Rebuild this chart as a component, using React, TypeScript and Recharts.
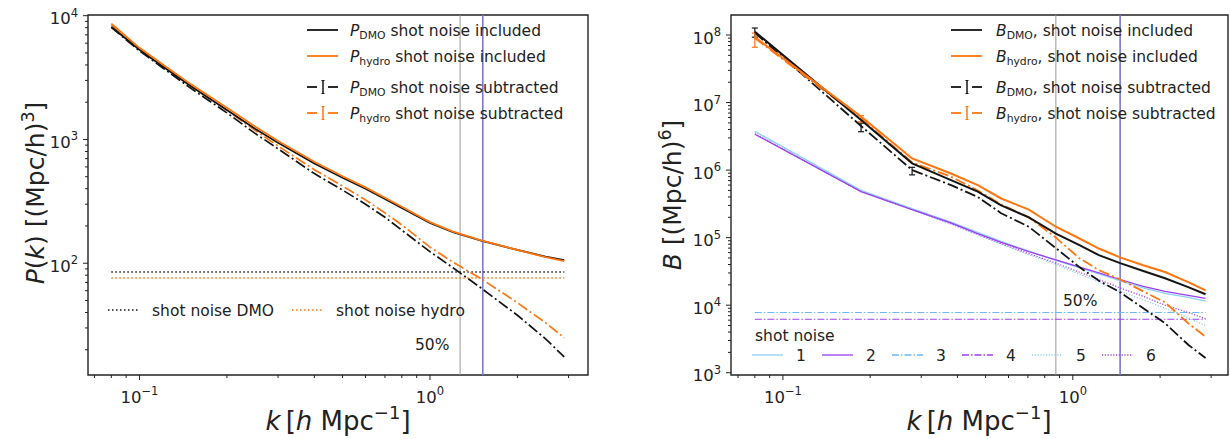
import React from "react";
import { LineChart, Line, XAxis, YAxis, ReferenceLine, ReferenceArea, ErrorBar } from "recharts";

// left panel: power spectrum
const kP = [0.08, 0.1, 0.12, 0.15, 0.2, 0.25, 0.3, 0.4, 0.5, 0.6, 0.7, 0.8, 1.0, 1.2, 1.5, 2.0, 2.5, 2.9];
const pDmoIncl = [8150, 5300, 3900, 2700, 1730, 1220, 940, 640, 490, 400, 330, 280, 212, 178, 152, 128, 113, 106];
const pHydroIncl = [8600, 5500, 4050, 2800, 1800, 1270, 970, 660, 505, 410, 338, 286, 215, 180, 153, 128, 112, 104];
const pDmoSub = [8050, 5200, 3800, 2600, 1640, 1120, 840, 530, 390, 300, 235, 185, 124, 92, 63, 38, 24.5, 17.5];
const pHydroSub = [8500, 5400, 3950, 2700, 1720, 1185, 885, 570, 420, 325, 255, 204, 135, 102, 75, 48, 33, 25];
const pNoiseDmo = 85;
const pNoiseHydro = 76;
const pCut50 = 1.27;
const pCutBlue = 1.52;

// right panel: bispectrum
const kB = [0.08, 0.186, 0.279, 0.38, 0.47, 0.566, 0.705, 0.874, 1.05, 1.23, 1.456, 1.75, 2.08, 2.5, 2.87];
const bDmoIncl = [1.12e8, 5.5e6, 1.26e6, 7.1e5, 4.8e5, 3.0e5, 2.0e5, 1.15e5, 7.8e4, 5.5e4, 4.2e4, 3.2e4, 2.5e4, 1.85e4, 1.45e4];
const bHydroIncl = [9.3e7, 6.2e6, 1.49e6, 8.9e5, 6.0e5, 3.8e5, 2.6e5, 1.45e5, 9.8e4, 6.9e4, 5.1e4, 3.9e4, 3.1e4, 2.2e4, 1.66e4];
const bDmoSub = [1.08e8, 4.5e6, 1.0e6, 6.0e5, 4.0e5, 2.3e5, 1.45e5, 7.0e4, 3.7e4, 2.3e4, 1.55e4, 9.0e3, 5.4e3, 2.6e3, 1.65e3];
const bHydroSub = [9.0e7, 5.8e6, 1.3e6, 8.0e5, 5.0e5, 3.1e5, 2.0e5, 1.0e5, 5.0e4, 3.3e4, 2.4e4, 1.6e4, 1.1e4, 5.4e3, 3.4e3];
const bDmoSubErr = [[1.5e7, 1.9e7], [8e5, 4.6e5], [1.5e5, 1.0e5], null, null, null, null, null, null, null, null, null, null, null, null];
const bHydroSubErr = [[2.4e7, 1.7e7], [6e5, 6e5], null, null, null, null, null, null, null, null, null, null, null, null, null];
const sn1 = [3.75e6, 5.0e5, 2.7e5, 1.7e5, 1.2e5, 8.8e4, 6.3e4, 4.6e4, 3.6e4, 2.9e4, 2.3e4, 1.8e4, 1.5e4, 1.3e4, 1.15e4];
const sn2 = [3.4e6, 4.8e5, 2.6e5, 1.65e5, 1.15e5, 8.5e4, 6.2e4, 4.7e4, 3.7e4, 3.0e4, 2.4e4, 1.9e4, 1.6e4, 1.4e4, 1.26e4];
const sn3 = 7.8e3;
const sn4 = 6.2e3;
const sn5 = [3.7e6, 4.9e5, 2.6e5, 1.6e5, 1.1e5, 8.0e4, 5.6e4, 4.0e4, 2.9e4, 2.2e4, 1.6e4, 1.2e4, 9.0e3, 6.5e3, 5.0e3];
const sn6 = [3.45e6, 4.8e5, 2.6e5, 1.6e5, 1.12e5, 8.2e4, 5.8e4, 4.2e4, 3.1e4, 2.4e4, 1.8e4, 1.35e4, 1.0e4, 7.8e3, 6.3e3];
const bCut50 = 0.874;
const bCutBlue = 1.456;

// axes
const xDomainP = [0.0665, 3.5];
const xDomainB = [0.0662, 3.43];
const yDomainP = [12.5, 10130];
const yDomainB = [925, 1.98e8];
const xTicks = [0.07, 0.08, 0.09, 0.1, 0.2, 0.3, 0.4, 0.5, 0.6, 0.7, 0.8, 0.9, 1, 2, 3];
const pTicks = [20, 30, 40, 50, 60, 70, 80, 90, 100, 200, 300, 400, 500, 600, 700, 800, 900, 1000, 2000, 3000, 4000, 5000, 6000, 7000, 8000, 9000, 10000];
const bTicks = [
  1e3, 2e3, 3e3, 4e3, 5e3, 6e3, 7e3, 8e3, 9e3,
  1e4, 2e4, 3e4, 4e4, 5e4, 6e4, 7e4, 8e4, 9e4,
  1e5, 2e5, 3e5, 4e5, 5e5, 6e5, 7e5, 8e5, 9e5,
  1e6, 2e6, 3e6, 4e6, 5e6, 6e6, 7e6, 8e6, 9e6,
  1e7, 2e7, 3e7, 4e7, 5e7, 6e7, 7e7, 8e7, 9e7, 1e8,
];

const BLACK = "#141414";
const ORANGE = "#ff7510";
const LBLUE = "#8fd0f5";
const MBLUE = "#6db8f2";
const PURPLE = "#9b40f0";
const GRAY = "#9a9a9a";
const VBLUE = "#7b79c9";
const FONT = "DejaVu Sans, sans-serif";
const DASHDOT = "11 3 2 3";

const pRows = kP.map((k, i) => ({
  k,
  dmoIncl: pDmoIncl[i],
  hydroIncl: pHydroIncl[i],
  dmoSub: pDmoSub[i],
  hydroSub: pHydroSub[i],
}));

const bRows = kB.map((k, i) => ({
  k,
  dmoIncl: bDmoIncl[i],
  hydroIncl: bHydroIncl[i],
  dmoSub: bDmoSub[i],
  hydroSub: bHydroSub[i],
  dmoErr: bDmoSubErr[i],
  hydroErr: bHydroSubErr[i],
  sn1: sn1[i],
  sn2: sn2[i],
  sn5: sn5[i],
  sn6: sn6[i],
}));

const isMajor = (v: number) => Math.abs(Math.log10(v) - Math.round(Math.log10(v))) < 1e-6;
const expOf = (v: number) => {
  const e = Math.round(Math.log10(v));
  return e < 0 ? "\u2212" + Math.abs(e) : String(e);
};

function XTick(props: any) {
  const { x, y, payload } = props;
  const v = payload.value;
  const major = isMajor(v);
  return (
    <g>
      <line x1={x} x2={x} y1={y} y2={y + (major ? 5 : 3)} stroke="#222" strokeWidth={1} />
      {major && (
        <text x={x} y={y + 27.5} textAnchor="middle" fontFamily={FONT} fontSize={16.5} fill="#222">
          10<tspan dy={-7.5} fontSize={11.5}>{expOf(v)}</tspan>
        </text>
      )}
    </g>
  );
}

function YTick(props: any) {
  const { x, y, payload } = props;
  const v = payload.value;
  const major = isMajor(v);
  return (
    <g>
      <line x1={x} x2={x - (major ? 5 : 3)} y1={y} y2={y} stroke="#222" strokeWidth={1} />
      {major && (
        <text x={x - 10} y={y + 8.5} textAnchor="end" fontFamily={FONT} fontSize={16.5} fill="#222">
          10<tspan dy={-7.5} fontSize={11.5}>{expOf(v)}</tspan>
        </text>
      )}
    </g>
  );
}

function LegendSample({ x, y, color, kind }: { x: number; y: number; color: string; kind: string }) {
  if (kind === "err") {
    return (
      <g stroke={color} strokeWidth={1.8}>
        <line x1={x} x2={x + 10} y1={y} y2={y} />
        <line x1={x + 16} x2={x + 16} y1={y - 6.5} y2={y + 6.5} strokeWidth={1.5} />
        <line x1={x + 14.5} x2={x + 17.5} y1={y - 6.5} y2={y - 6.5} strokeWidth={1} />
        <line x1={x + 14.5} x2={x + 17.5} y1={y + 6.5} y2={y + 6.5} strokeWidth={1} />
        <line x1={x + 21} x2={x + 31} y1={y} y2={y} />
      </g>
    );
  }
  return <line x1={x} x2={x + 31} y1={y} y2={y} stroke={color} strokeWidth={1.8} />;
}

const legendRows = [
  { y: 30, color: BLACK, sub: "DMO", kind: "solid", txt: "shot noise included" },
  { y: 56, color: ORANGE, sub: "hydro", kind: "solid", txt: "shot noise included" },
  { y: 87, color: BLACK, sub: "DMO", kind: "err", txt: "shot noise subtracted" },
  { y: 113, color: ORANGE, sub: "hydro", kind: "err", txt: "shot noise subtracted" },
];

const snLegend = [
  { label: "1", color: LBLUE, dash: undefined },
  { label: "2", color: PURPLE, dash: undefined },
  { label: "3", color: MBLUE, dash: "7 2 1.5 2" },
  { label: "4", color: PURPLE, dash: "7 2 1.5 2" },
  { label: "5", color: LBLUE, dash: "1.2 1.6" },
  { label: "6", color: PURPLE, dash: "1.2 1.6" },
];

function Overlay() {
  const t = { fontFamily: FONT, fill: "#222" } as const;
  return (
    <svg width={1230} height={439} style={{ position: "absolute", left: 0, top: 0, pointerEvents: "none" }}>
      {/* left legend */}
      {legendRows.map((r) => (
        <g key={"pl" + r.y + r.sub}>
          <LegendSample x={307} y={r.y} color={r.color} kind={r.kind} />
          <text x={350} y={r.y + 5.5} fontSize={15.5} {...t}>
            <tspan fontStyle="italic">P</tspan>
            <tspan fontSize={10.8} dy={3.5}>{r.sub}</tspan>
            <tspan dy={-3.5}> {r.txt}</tspan>
          </text>
        </g>
      ))}
      <line x1={108} x2={138} y1={310} y2={310} stroke={BLACK} strokeWidth={1.6} strokeDasharray="1.5 2.5" />
      <text x={152} y={315.5} fontSize={15.5} {...t}>shot noise DMO</text>
      <line x1={292} x2={322} y1={310} y2={310} stroke={ORANGE} strokeWidth={1.6} strokeDasharray="1.5 2.5" />
      <text x={336} y={315.5} fontSize={15.5} {...t}>shot noise hydro</text>
      <text x={415} y={350} fontSize={15.5} {...t}>50%</text>

      {/* right legend */}
      {legendRows.map((r) => (
        <g key={"bl" + r.y + r.sub}>
          <LegendSample x={951} y={r.y} color={r.color} kind={r.kind} />
          <text x={996} y={r.y + 5.5} fontSize={15.5} {...t}>
            <tspan fontStyle="italic">B</tspan>
            <tspan fontSize={10.8} dy={3.5}>{r.sub}</tspan>
            <tspan dy={-3.5}>, {r.txt}</tspan>
          </text>
        </g>
      ))}
      <text x={1063} y={306} fontSize={15.5} {...t}>50%</text>
      <text x={755} y={341} fontSize={15.5} {...t}>shot noise</text>
      {snLegend.map((s, i) => (
        <g key={"sn" + s.label}>
          <line x1={752 + i * 70} x2={783 + i * 70} y1={355} y2={355} stroke={s.color} strokeWidth={1.3} strokeDasharray={s.dash} />
          <text x={796 + i * 70} y={361} fontSize={15.5} {...t}>{s.label}</text>
        </g>
      ))}

      {/* axis titles */}
      <text x={338} y={430} textAnchor="middle" fontSize={26} {...t}>
        <tspan fontStyle="italic">k</tspan>
        <tspan>{"\u2009["}</tspan>
        <tspan fontStyle="italic">h</tspan>
        <tspan> Mpc</tspan>
        <tspan dy={-11} fontSize={18}>{"\u22121"}</tspan>
        <tspan dy={11}>]</tspan>
      </text>
      <text x={979} y={430} textAnchor="middle" fontSize={26} {...t}>
        <tspan fontStyle="italic">k</tspan>
        <tspan>{"\u2009["}</tspan>
        <tspan fontStyle="italic">h</tspan>
        <tspan> Mpc</tspan>
        <tspan dy={-11} fontSize={18}>{"\u22121"}</tspan>
        <tspan dy={11}>]</tspan>
      </text>
      <text x={0} y={0} transform="translate(44,193) rotate(-90)" textAnchor="middle" fontSize={25} {...t}>
        <tspan fontStyle="italic">P</tspan>
        <tspan>(</tspan>
        <tspan fontStyle="italic">k</tspan>
        <tspan>) [(Mpc/h)</tspan>
        <tspan dy={-10} fontSize={17.5}>3</tspan>
        <tspan dy={10}>]</tspan>
      </text>
      <text x={0} y={0} transform="translate(681,195) rotate(-90)" textAnchor="middle" fontSize={25} {...t}>
        <tspan fontStyle="italic">B</tspan>
        <tspan> [(Mpc/h)</tspan>
        <tspan dy={-10} fontSize={17.5}>6</tspan>
        <tspan dy={10}>]</tspan>
      </text>
    </svg>
  );
}

function PowerPanel() {
  return (
    <LineChart width={600} height={439} data={pRows} margin={{ top: 15, right: 12, bottom: 0, left: 0 }}>
      <XAxis dataKey="k" type="number" scale="log" domain={xDomainP} allowDataOverflow ticks={xTicks} interval={0}
        height={64} tickSize={0} tickMargin={0} axisLine={false} tick={<XTick />} />
      <YAxis type="number" scale="log" domain={yDomainP} allowDataOverflow ticks={pTicks} interval={0}
        width={88} tickSize={0} tickMargin={0} axisLine={false} tick={<YTick />} />
      <ReferenceArea x1={xDomainP[0]} x2={xDomainP[1]} y1={yDomainP[0]} y2={yDomainP[1]} fill="none" fillOpacity={0} stroke="#222" strokeWidth={1.4} ifOverflow="visible" />
      <ReferenceLine x={pCut50} stroke={GRAY} strokeWidth={1} />
      <ReferenceLine x={pCutBlue} stroke={VBLUE} strokeWidth={1.6} />
      <ReferenceLine segment={[{ x: kP[0], y: pNoiseDmo }, { x: kP[kP.length - 1], y: pNoiseDmo }]} stroke={BLACK} strokeWidth={1.6} strokeDasharray="1.5 2.5" />
      <ReferenceLine segment={[{ x: kP[0], y: pNoiseHydro }, { x: kP[kP.length - 1], y: pNoiseHydro }]} stroke={ORANGE} strokeWidth={1.6} strokeDasharray="1.5 2.5" />
      <Line dataKey="dmoSub" stroke={BLACK} strokeWidth={1.7} strokeDasharray={DASHDOT} dot={false} isAnimationActive={false} />
      <Line dataKey="hydroSub" stroke={ORANGE} strokeWidth={1.7} strokeDasharray={DASHDOT} dot={false} isAnimationActive={false} />
      <Line dataKey="dmoIncl" stroke={BLACK} strokeWidth={1.8} dot={false} isAnimationActive={false} />
      <Line dataKey="hydroIncl" stroke={ORANGE} strokeWidth={1.8} dot={false} isAnimationActive={false} />
    </LineChart>
  );
}

function BispecPanel() {
  return (
    <LineChart width={610} height={439} data={bRows} margin={{ top: 15, right: 2, bottom: 0, left: 0 }}>
      <XAxis dataKey="k" type="number" scale="log" domain={xDomainB} allowDataOverflow ticks={xTicks} interval={0}
        height={64} tickSize={0} tickMargin={0} axisLine={false} tick={<XTick />} />
      <YAxis type="number" scale="log" domain={yDomainB} allowDataOverflow ticks={bTicks} interval={0}
        width={111} tickSize={0} tickMargin={0} axisLine={false} tick={<YTick />} />
      <ReferenceArea x1={xDomainB[0]} x2={xDomainB[1]} y1={yDomainB[0]} y2={yDomainB[1]} fill="none" fillOpacity={0} stroke="#222" strokeWidth={1.4} ifOverflow="visible" />
      <ReferenceLine x={bCut50} stroke={GRAY} strokeWidth={1} />
      <ReferenceLine x={bCutBlue} stroke={VBLUE} strokeWidth={1.6} />
      <ReferenceLine segment={[{ x: kB[0], y: sn3 }, { x: kB[kB.length - 1], y: sn3 }]} stroke={MBLUE} strokeWidth={1.1} strokeDasharray="7 2 1.5 2" />
      <ReferenceLine segment={[{ x: kB[0], y: sn4 }, { x: kB[kB.length - 1], y: sn4 }]} stroke={PURPLE} strokeWidth={1.1} strokeDasharray="7 2 1.5 2" />
      <Line dataKey="sn5" stroke={LBLUE} strokeWidth={1.2} strokeDasharray="1.2 1.6" dot={false} isAnimationActive={false} />
      <Line dataKey="sn6" stroke={PURPLE} strokeWidth={1.2} strokeDasharray="1.2 1.6" dot={false} isAnimationActive={false} />
      <Line dataKey="sn1" stroke={LBLUE} strokeWidth={1.3} dot={false} isAnimationActive={false} />
      <Line dataKey="sn2" stroke={PURPLE} strokeWidth={1.3} dot={false} isAnimationActive={false} />
      <Line dataKey="dmoSub" stroke={BLACK} strokeWidth={1.8} strokeDasharray={DASHDOT} dot={false} isAnimationActive={false}>
        <ErrorBar dataKey="dmoErr" direction="y" width={3} stroke={BLACK} strokeWidth={1.2} />
      </Line>
      <Line dataKey="hydroSub" stroke={ORANGE} strokeWidth={1.8} strokeDasharray={DASHDOT} dot={false} isAnimationActive={false}>
        <ErrorBar dataKey="hydroErr" direction="y" width={3} stroke={ORANGE} strokeWidth={1.2} />
      </Line>
      <Line dataKey="dmoIncl" stroke={BLACK} strokeWidth={2} dot={false} isAnimationActive={false} />
      <Line dataKey="hydroIncl" stroke={ORANGE} strokeWidth={2} dot={false} isAnimationActive={false} />
    </LineChart>
  );
}

export default function App() {
  return (
    <div style={{ position: "absolute", left: 0, top: 0, width: 1230, height: 439, background: "#fff", fontFamily: FONT }}>
      <div style={{ position: "absolute", left: 0, top: 0 }}>
        <PowerPanel />
      </div>
      <div style={{ position: "absolute", left: 620, top: 0 }}>
        <BispecPanel />
      </div>
      <Overlay />
    </div>
  );
}
